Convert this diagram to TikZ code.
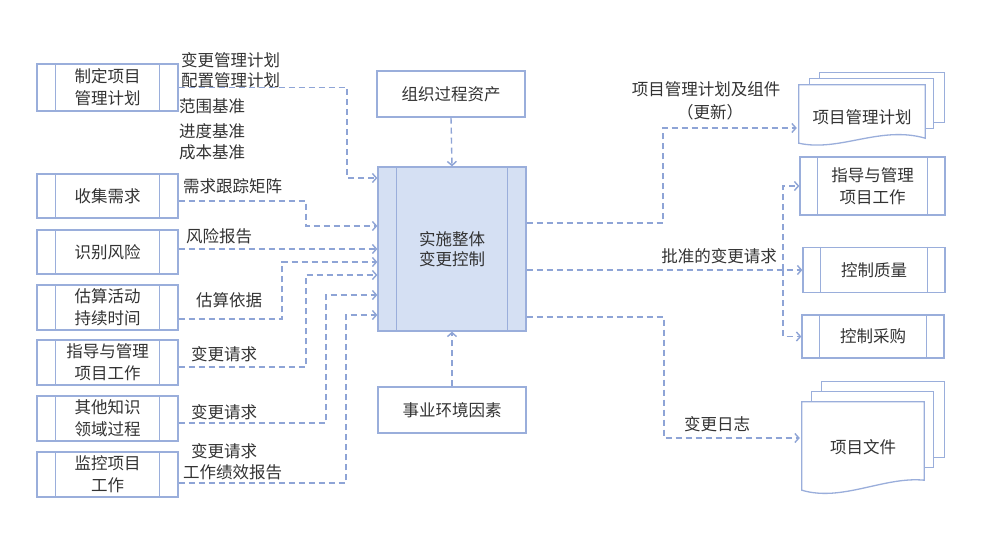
\documentclass[tikz,border=0pt]{standalone}
\usepackage{fontspec}
\setmainfont{Noto Sans CJK SC}
\usetikzlibrary{arrows.meta,calc}
\definecolor{bc}{HTML}{9AAEDB}
\definecolor{lc}{HTML}{8EA4D6}
\definecolor{cf}{HTML}{D5E0F3}
\definecolor{tc}{HTML}{333333}
\newcommand\mystrips[2]{\draw[bc,line width=1.3pt] ([xshift=#2]#1.north west) -- ([xshift=#2]#1.south west) ([xshift=-#2]#1.north east) -- ([xshift=-#2]#1.south east);}
\begin{document}
\begin{tikzpicture}[x=1pt,y=-1pt,
  every node/.style={text=tc,font=\fontsize{16.5}{21}\selectfont,inner sep=0pt},
  box/.style={draw=bc,line width=1.3pt,fill=white,align=center,font=\fontsize{16.5}{22}\selectfont},
  docs/.style={draw=bc,line width=1.3pt,fill=white},
  dl/.style={draw=lc,line width=1.4pt,dash pattern=on 6pt off 4pt,-{Straight Barb[length=4pt,width=9pt]}},
  lbl/.style={anchor=west}]
\fill[white] (0,0) rectangle (987,546);
\useasboundingbox (0,0) rectangle (987,546);
% left boxes
\node[box,minimum width=141pt,minimum height=47pt] (a1) at (107.5,87.5) {制定项目\\管理计划};
\node[box,minimum width=141pt,minimum height=44pt] (a2) at (107.5,196) {收集需求};
\node[box,minimum width=141pt,minimum height=44pt] (a3) at (107.5,252) {识别风险};
\node[box,minimum width=141pt,minimum height=45pt] (a4) at (107.5,307.5) {估算活动\\持续时间};
\node[box,minimum width=141pt,minimum height=45pt] (a5) at (107.5,362.5) {指导与管理\\项目工作};
\node[box,minimum width=141pt,minimum height=45pt] (a6) at (107.5,418.5) {其他知识\\领域过程};
\node[box,minimum width=141pt,minimum height=45pt] (a7) at (107.5,474.5) {监控项目\\工作};
\foreach \n in {a1,a2,a3,a4,a5,a6,a7} {\mystrips{\n}{19pt}}
% center
\node[box,fill=cf,minimum width=148pt,minimum height=164pt,font=\fontsize{16.5}{20}\selectfont] (c) at (452,249) {实施整体\\变更控制};
\mystrips{c}{19pt}
\node[box,minimum width=148pt,minimum height=46pt] (o) at (451,94) {组织过程资产};
\node[box,minimum width=148pt,minimum height=46pt] (e) at (452,410) {事业环境因素};
% right boxes
\node[box,minimum width=145pt,minimum height=58pt] (r1) at (872.5,186) {指导与管理\\项目工作};
\node[box,minimum width=142pt,minimum height=45pt] (r2) at (874,270) {控制质量};
\node[box,minimum width=142pt,minimum height=43pt] (r3) at (873,336.5) {控制采购};
\foreach \n in {r1,r2,r3} {\mystrips{\n}{18pt}}
% documents
\node[minimum width=126pt,minimum height=58pt] (d1) at (862,114) {};
\draw[docs] ([shift={(21,-12)}]d1.north west) rectangle ([shift={(19,-21)}]d1.south east);
\draw[docs] ([shift={(11,-6)}]d1.north west) rectangle ([shift={(8,-15)}]d1.south east);
\draw[docs] (d1.south west) -- (d1.north west) -- (d1.north east) -- ([shift={(0,-5)}]d1.south east)
  .. controls ([shift={(-45,-18)}]d1.south east) and ([shift={(41,9)}]d1.south west) .. (d1.south west) -- cycle;
\node (d1t) at ([shift={(0,3)}]d1.center) {项目管理计划};
\node[minimum width=122pt,minimum height=88pt] (d2) at (863,446) {};
\draw[docs] ([shift={(20,-20)}]d2.north west) rectangle ([shift={(20,-33)}]d2.south east);
\draw[docs] ([shift={(10,-10)}]d2.north west) rectangle ([shift={(9,-23)}]d2.south east);
\draw[docs] (d2.south west) -- (d2.north west) -- (d2.north east) -- ([shift={(0,-10)}]d2.south east)
  .. controls ([shift={(-40,-14)}]d2.south east) and ([shift={(40,12)}]d2.south west) .. (d2.south west) -- cycle;
\node (d2t) at ([shift={(0,1)}]d2.center) {项目文件};
% left connectors
\draw[dl] (a1.east) -| (347,178) -- ([shift={(0,-71)}]c.west);
\draw[dl] ([shift={(0,5)}]a2.east) -| (306,226) -- ([shift={(0,-23)}]c.west);
\draw[dl] ([shift={(0,-3)}]a3.east) -- (c.west);
\draw[dl] ([shift={(0,11.5)}]a4.east) -| (282,262) -- ([shift={(0,13)}]c.west);
\draw[dl] ([shift={(0,4.5)}]a5.east) -| (306,275) -- ([shift={(0,26)}]c.west);
\draw[dl] ([shift={(0,4.5)}]a6.east) -| (326,295) -- ([shift={(0,46)}]c.west);
\draw[dl] ([shift={(0,8.5)}]a7.east) -| (346,315) -- ([shift={(0,66)}]c.west);
\draw[dl] (o.south) -- (c.north);
\draw[dl] (e.north) -- (c.south);
% right connectors
\draw[dl] ([shift={(0,-26)}]c.east) -| (663,128) -- ([shift={(-2,14)}]d1.west);
\draw[dl] (c.east |- r2.west) -- (r2.west);
\coordinate (t) at (783,270);
\draw[dl] (t) |- (r1.west);
\draw[dl] (t) |- (r3.west);
\draw[dl] ([shift={(0,68)}]c.east) -| (664,438) -- ([shift={(-2,-8)}]d2.west);
% labels
\node[lbl] (l1) at (181,60) {变更管理计划};
\node[lbl] (l2) at (181,80) {配置管理计划};
\node[lbl] (l3) at (179,106) {范围基准};
\node[lbl] (l4) at (179,131) {进度基准};
\node[lbl] (l5) at (179,152) {成本基准};
\node[lbl] (l6) at (183,186) {需求跟踪矩阵};
\node[lbl] (l7) at (186,236) {风险报告};
\node[lbl] (l8) at (196,300) {估算依据};
\node[lbl] (l9) at (191,354) {变更请求};
\node[lbl] (l10) at (191,412) {变更请求};
\node[lbl] (l11) at (191,451) {变更请求};
\node[lbl] (l12) at (183,472) {工作绩效报告};
\node (l13) at (706,89) {项目管理计划及组件};
\node (l14) at (710,112) {（更新）};
\node (l15) at (719,256) {批准的变更请求};
\node (l16) at (717,424) {变更日志};
\end{tikzpicture}
\end{document}
